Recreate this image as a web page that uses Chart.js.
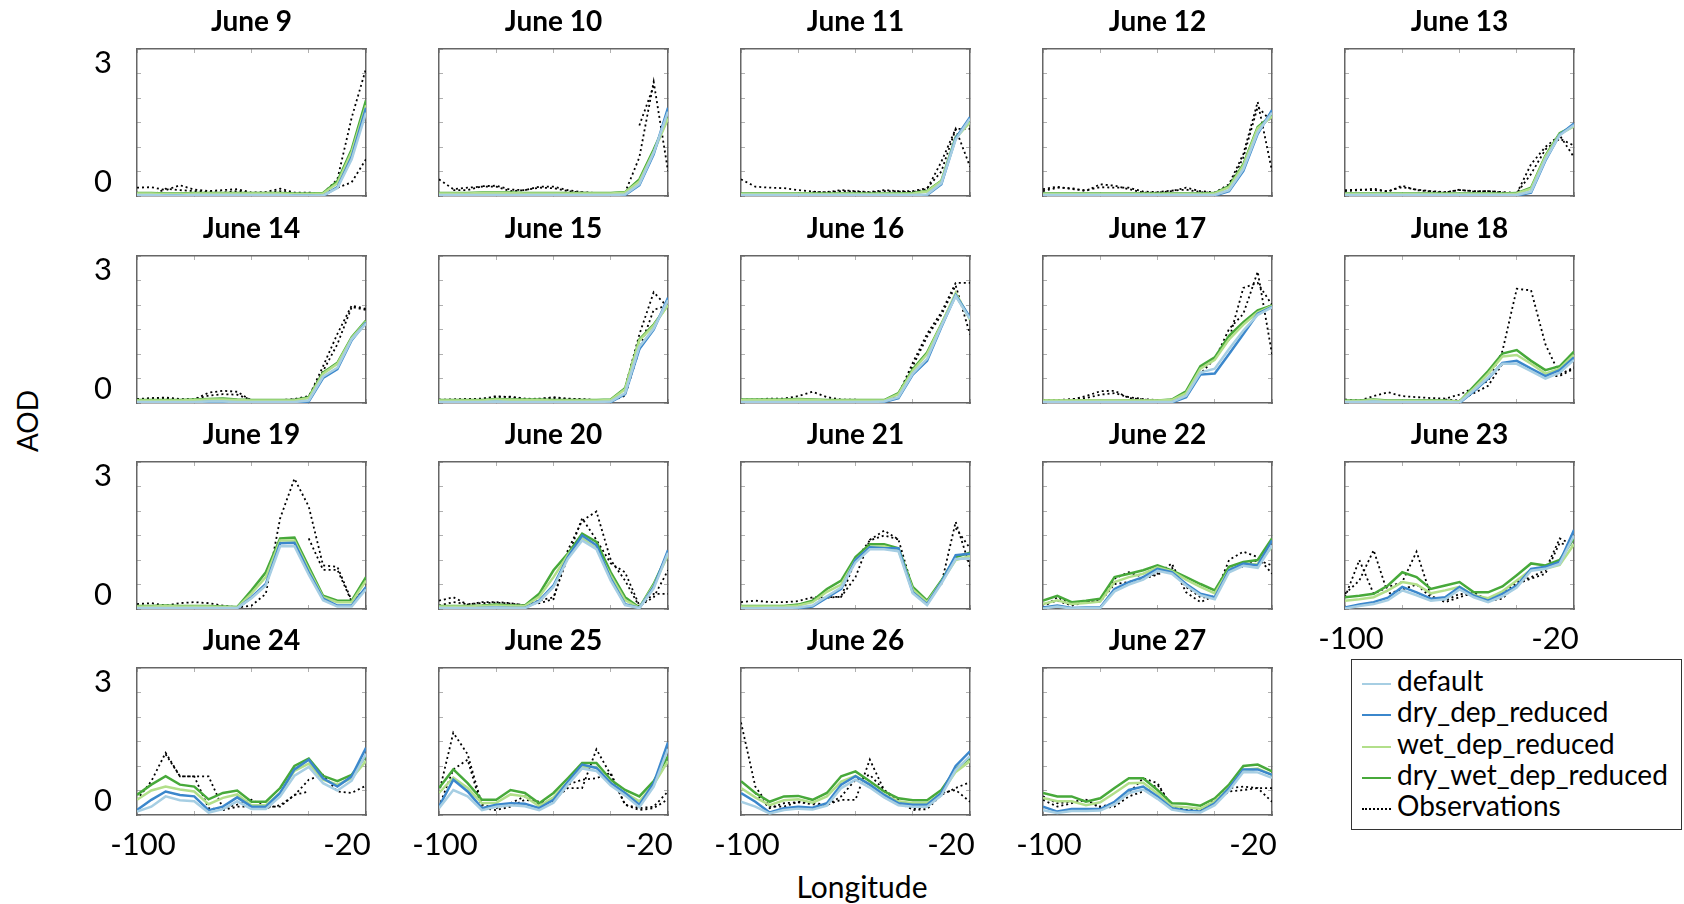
<!DOCTYPE html>
<html>
<head>
<meta charset="utf-8">
<script src="https://cdn.jsdelivr.net/npm/chart.js@4.4.1/dist/chart.umd.min.js"></script>
<style>
  body { margin: 0; background: #fff; width: 1684px; height: 904px; position: relative; overflow: hidden; font-family: Lato, "Open Sans", sans-serif; }
  canvas { position: absolute; }
  #legend { position: absolute; left: 1351px; top: 659px; width: 331px; height: 171px; border: 1.5px solid #333; box-sizing: border-box; padding-top: 5px; }
  #legend div { height: 31.3px; line-height: 31.3px; font-size: 28px; color: #000; white-space: nowrap; }
  #legend span { display: inline-block; width: 29px; margin: 0 6px 0 10px; vertical-align: middle; }
  #ylab { position: absolute; left: 27px; top: 421px; font-size: 28px; transform: translate(-50%, -50%) rotate(-90deg); }
  #xlab { position: absolute; left: 862px; top: 886px; font-size: 30px; transform: translate(-50%, -50%); }
</style>
</head>
<body>
<div id="ylab">AOD</div>
<div id="xlab">Longitude</div>
<div id="legend"></div>
<script>
// longitudes of the model / observation points
const lon = [-100, -95, -90, -85, -80, -75, -70, -65, -60, -55, -50, -45, -40, -35, -30, -25, -20];
const days = ['June 9', 'June 10', 'June 11', 'June 12', 'June 13', 'June 14', 'June 15', 'June 16', 'June 17', 'June 18',
              'June 19', 'June 20', 'June 21', 'June 22', 'June 23', 'June 24', 'June 25', 'June 26', 'June 27'];
const yTickLabels = [0, 3];
const xTickLabels = [-100, -20];

const seriesNames = ['default', 'dry_dep_reduced', 'wet_dep_reduced', 'dry_wet_dep_reduced', 'Observations'];
const seriesColors = ['#a6cee3', '#3b87cc', '#b2df8a', '#47a93a', '#000000'];

// one row per day
const aodDefault = [
  [0.02,0.02,0.01,0.01,0.02,0.02,0.02,0.02,0.02,0.02,0.02,0.01,0.01,0.01,0.16,0.75,1.70],
  [0.02,0.02,0.02,0.02,0.02,0.02,0.02,0.02,0.02,0.02,0.02,0.02,0.02,0.03,0.24,0.88,1.72],
  [0.02,0.02,0.02,0.02,0.02,0.02,0.02,0.02,0.02,0.02,0.02,0.02,0.02,0.03,0.26,1.15,1.58],
  [0.02,0.02,0.02,0.02,0.02,0.02,0.02,0.02,0.02,0.02,0.02,0.02,0.02,0.12,0.55,1.30,1.70],
  [0.02,0.02,0.02,0.02,0.02,0.02,0.02,0.02,0.02,0.02,0.02,0.02,0.02,0.09,0.74,1.24,1.45],
  [0.02,0.02,0.02,0.02,0.02,0.03,0.03,0.02,0.02,0.02,0.02,0.02,0.05,0.54,0.72,1.30,1.62],
  [0.02,0.02,0.02,0.02,0.03,0.02,0.02,0.02,0.02,0.02,0.02,0.02,0.03,0.20,1.15,1.52,2.10],
  [0.02,0.02,0.02,0.02,0.02,0.02,0.02,0.02,0.02,0.02,0.03,0.12,0.60,0.90,1.57,2.18,1.72],
  [0.02,0.02,0.02,0.02,0.02,0.02,0.02,0.02,0.02,0.02,0.15,0.62,0.70,1.10,1.48,1.80,1.95],
  [0.02,0.02,0.03,0.02,0.02,0.02,0.02,0.02,0.01,0.26,0.52,0.80,0.80,0.65,0.50,0.62,0.88],
  [0.02,0.02,0.02,0.02,0.02,0.02,0.02,0.02,0.22,0.48,1.28,1.28,0.70,0.18,0.05,0.05,0.40],
  [0.02,0.02,0.02,0.02,0.03,0.02,0.02,0.15,0.45,1.02,1.40,1.22,0.58,0.08,0.02,0.42,1.15],
  [0.01,0.01,0.02,0.02,0.03,0.07,0.26,0.44,0.95,1.22,1.22,1.18,0.32,0.08,0.52,1.02,1.03],
  [0.01,0.05,0.01,0.02,0.02,0.36,0.50,0.60,0.78,0.72,0.48,0.28,0.20,0.75,0.88,0.84,1.30],
  [0.01,0.06,0.10,0.18,0.38,0.28,0.17,0.20,0.40,0.24,0.14,0.26,0.44,0.78,0.82,0.92,1.50],
  [0.07,0.17,0.38,0.30,0.28,0.05,0.12,0.28,0.12,0.12,0.38,0.80,0.98,0.65,0.50,0.70,1.25],
  [0.14,0.51,0.38,0.10,0.17,0.20,0.18,0.10,0.25,0.62,0.95,0.90,0.60,0.40,0.16,0.58,1.35],
  [0.27,0.17,0.03,0.10,0.13,0.11,0.19,0.55,0.72,0.56,0.36,0.20,0.17,0.17,0.40,0.92,1.20],
  [0.10,0.04,0.08,0.08,0.09,0.22,0.45,0.52,0.33,0.11,0.06,0.05,0.20,0.50,0.88,0.87,0.76]
];
const aodDryDep = [
  [0.01,0.01,0.01,0.01,0.01,0.01,0.01,0.01,0.01,0.01,0.01,0.01,0.01,0.00,0.18,0.80,1.80],
  [0.01,0.01,0.01,0.01,0.01,0.01,0.01,0.01,0.01,0.01,0.01,0.01,0.01,0.02,0.22,0.85,1.80],
  [0.01,0.01,0.01,0.01,0.01,0.01,0.01,0.01,0.01,0.01,0.01,0.01,0.01,0.02,0.24,1.18,1.61],
  [0.01,0.01,0.01,0.01,0.01,0.01,0.01,0.01,0.01,0.01,0.01,0.01,0.01,0.10,0.51,1.27,1.75],
  [0.01,0.01,0.01,0.01,0.01,0.01,0.01,0.01,0.01,0.01,0.01,0.01,0.01,0.07,0.72,1.25,1.48],
  [0.01,0.01,0.01,0.01,0.01,0.02,0.02,0.01,0.01,0.01,0.01,0.01,0.03,0.51,0.69,1.28,1.64],
  [0.01,0.01,0.01,0.01,0.02,0.01,0.01,0.01,0.01,0.01,0.01,0.01,0.02,0.18,1.10,1.50,2.15],
  [0.01,0.01,0.01,0.01,0.01,0.01,0.01,0.01,0.01,0.01,0.02,0.10,0.58,0.86,1.55,2.20,1.75],
  [0.01,0.01,0.01,0.01,0.01,0.01,0.01,0.01,0.01,0.01,0.12,0.58,0.60,1.00,1.41,1.82,1.96],
  [0.01,0.01,0.02,0.01,0.01,0.01,0.01,0.01,0.00,0.24,0.50,0.82,0.86,0.70,0.55,0.67,0.93],
  [0.01,0.01,0.01,0.01,0.01,0.01,0.01,0.01,0.24,0.51,1.34,1.35,0.75,0.21,0.07,0.07,0.45],
  [0.01,0.01,0.01,0.02,0.03,0.02,0.02,0.17,0.48,1.06,1.50,1.30,0.62,0.10,0.02,0.45,1.20],
  [0.00,0.00,0.01,0.01,0.02,0.05,0.23,0.41,1.00,1.26,1.24,1.24,0.34,0.10,0.55,1.10,1.13],
  [0.03,0.07,0.02,0.03,0.03,0.41,0.55,0.65,0.82,0.75,0.51,0.31,0.24,0.79,0.93,0.89,1.40],
  [0.03,0.09,0.14,0.23,0.45,0.34,0.21,0.24,0.45,0.27,0.17,0.31,0.48,0.82,0.86,0.96,1.61],
  [0.10,0.31,0.48,0.41,0.38,0.10,0.17,0.36,0.17,0.17,0.45,0.93,1.13,0.75,0.58,0.79,1.37],
  [0.17,0.72,0.48,0.14,0.21,0.24,0.23,0.14,0.31,0.68,1.03,0.96,0.65,0.45,0.21,0.65,1.48],
  [0.45,0.27,0.05,0.14,0.17,0.15,0.24,0.62,0.79,0.62,0.41,0.24,0.21,0.21,0.45,1.00,1.30],
  [0.17,0.07,0.12,0.12,0.12,0.27,0.51,0.58,0.38,0.14,0.09,0.07,0.24,0.55,0.93,0.93,0.82]
];
const aodWetDep = [
  [0.05,0.05,0.04,0.04,0.05,0.05,0.05,0.05,0.05,0.05,0.05,0.04,0.04,0.05,0.26,0.90,1.85],
  [0.05,0.05,0.05,0.06,0.06,0.06,0.05,0.05,0.05,0.05,0.05,0.05,0.05,0.07,0.30,0.90,1.58],
  [0.04,0.04,0.04,0.04,0.04,0.04,0.04,0.04,0.04,0.04,0.04,0.04,0.05,0.09,0.30,1.18,1.50],
  [0.04,0.04,0.04,0.04,0.04,0.04,0.04,0.04,0.04,0.04,0.04,0.04,0.05,0.18,0.62,1.38,1.62],
  [0.04,0.04,0.04,0.04,0.04,0.04,0.04,0.04,0.04,0.04,0.04,0.04,0.05,0.15,0.80,1.26,1.42],
  [0.05,0.05,0.05,0.05,0.06,0.07,0.07,0.06,0.05,0.05,0.05,0.05,0.10,0.60,0.80,1.32,1.66],
  [0.05,0.05,0.05,0.05,0.07,0.06,0.06,0.06,0.05,0.05,0.05,0.05,0.06,0.28,1.28,1.58,2.00],
  [0.06,0.06,0.06,0.06,0.07,0.06,0.05,0.05,0.05,0.05,0.05,0.18,0.66,1.00,1.60,2.25,1.70],
  [0.05,0.05,0.05,0.05,0.05,0.05,0.05,0.05,0.05,0.06,0.20,0.70,0.88,1.30,1.60,1.85,1.98],
  [0.04,0.04,0.06,0.04,0.04,0.04,0.04,0.04,0.03,0.30,0.60,0.95,0.98,0.80,0.60,0.70,0.98],
  [0.05,0.05,0.06,0.05,0.05,0.05,0.04,0.03,0.32,0.65,1.40,1.40,0.80,0.24,0.14,0.14,0.58],
  [0.05,0.05,0.05,0.06,0.07,0.06,0.06,0.25,0.65,1.10,1.44,1.24,0.68,0.18,0.02,0.48,1.10],
  [0.05,0.05,0.05,0.05,0.07,0.14,0.35,0.50,1.00,1.26,1.28,1.20,0.40,0.14,0.55,1.00,1.08],
  [0.10,0.18,0.10,0.12,0.15,0.55,0.65,0.72,0.85,0.77,0.60,0.45,0.32,0.80,0.90,0.92,1.27],
  [0.17,0.20,0.24,0.38,0.55,0.50,0.32,0.38,0.45,0.28,0.22,0.36,0.58,0.80,0.82,0.90,1.32],
  [0.31,0.50,0.58,0.52,0.48,0.22,0.35,0.42,0.20,0.20,0.45,0.90,1.05,0.72,0.62,0.75,1.10],
  [0.45,0.76,0.55,0.24,0.25,0.42,0.38,0.18,0.36,0.68,0.98,0.98,0.66,0.45,0.28,0.62,1.10],
  [0.55,0.36,0.20,0.30,0.32,0.25,0.38,0.68,0.80,0.62,0.42,0.28,0.24,0.24,0.45,0.88,1.10],
  [0.35,0.28,0.28,0.20,0.26,0.45,0.65,0.66,0.44,0.18,0.16,0.13,0.28,0.55,0.92,0.95,0.82]
];
const aodDryWetDep = [
  [0.06,0.06,0.05,0.05,0.06,0.06,0.06,0.06,0.06,0.06,0.06,0.05,0.05,0.06,0.30,0.95,1.95],
  [0.06,0.06,0.06,0.07,0.07,0.07,0.06,0.06,0.06,0.06,0.06,0.06,0.06,0.08,0.34,0.95,1.60],
  [0.05,0.05,0.05,0.05,0.05,0.05,0.05,0.05,0.05,0.05,0.05,0.05,0.06,0.10,0.31,1.20,1.52],
  [0.05,0.05,0.05,0.05,0.05,0.05,0.05,0.05,0.05,0.05,0.05,0.05,0.06,0.20,0.65,1.41,1.65],
  [0.05,0.05,0.05,0.05,0.05,0.05,0.05,0.05,0.05,0.05,0.05,0.05,0.06,0.17,0.82,1.28,1.43],
  [0.06,0.06,0.06,0.06,0.07,0.08,0.09,0.07,0.06,0.06,0.06,0.06,0.12,0.62,0.82,1.34,1.68],
  [0.06,0.06,0.06,0.06,0.08,0.07,0.07,0.07,0.06,0.06,0.06,0.06,0.07,0.30,1.30,1.60,2.00],
  [0.07,0.07,0.07,0.07,0.08,0.07,0.06,0.06,0.06,0.06,0.06,0.20,0.69,1.03,1.61,2.20,1.72],
  [0.05,0.05,0.05,0.05,0.05,0.05,0.05,0.05,0.05,0.07,0.24,0.75,0.93,1.37,1.65,1.89,1.99],
  [0.05,0.05,0.07,0.05,0.05,0.05,0.05,0.05,0.03,0.34,0.65,1.01,1.08,0.86,0.67,0.75,1.05],
  [0.06,0.06,0.07,0.06,0.06,0.06,0.05,0.04,0.38,0.75,1.44,1.46,0.86,0.27,0.17,0.17,0.65],
  [0.06,0.06,0.06,0.07,0.09,0.07,0.07,0.31,0.79,1.13,1.54,1.37,0.75,0.24,0.03,0.51,1.13],
  [0.06,0.06,0.06,0.06,0.09,0.17,0.41,0.58,1.06,1.32,1.32,1.24,0.45,0.17,0.58,1.06,1.15],
  [0.17,0.27,0.14,0.17,0.21,0.65,0.72,0.79,0.89,0.79,0.65,0.51,0.38,0.86,0.96,1.00,1.44],
  [0.24,0.27,0.31,0.48,0.75,0.65,0.41,0.48,0.55,0.34,0.34,0.46,0.69,0.93,0.89,1.00,1.44],
  [0.41,0.62,0.79,0.62,0.58,0.32,0.45,0.50,0.27,0.27,0.55,1.00,1.15,0.80,0.69,0.82,1.20],
  [0.55,0.93,0.65,0.31,0.31,0.51,0.45,0.24,0.45,0.75,1.06,1.06,0.72,0.51,0.38,0.69,1.20],
  [0.69,0.45,0.27,0.38,0.39,0.31,0.45,0.79,0.89,0.69,0.48,0.34,0.30,0.30,0.51,0.93,1.17],
  [0.45,0.38,0.38,0.27,0.34,0.55,0.75,0.75,0.51,0.24,0.23,0.19,0.34,0.62,1.00,1.03,0.89]
];
// two observation tracks per day (null = no data)
const obsA = [
  [0.17,0.18,0.12,0.22,0.13,0.10,0.12,0.14,0.07,0.08,0.15,0.07,0.07,0.05,0.34,1.60,2.60],
  [0.34,0.14,0.17,0.19,0.19,0.10,0.12,0.17,0.16,0.10,0.07,0.05,0.05,0.07,0.79,2.33,0.51],
  [0.34,0.19,0.17,0.16,0.12,0.09,0.07,0.10,0.09,0.07,0.10,0.09,0.08,0.14,0.70,1.37,0.60],
  [0.10,0.17,0.16,0.10,0.24,0.21,0.14,0.07,0.07,0.10,0.17,0.10,0.07,0.24,0.86,1.92,0.51],
  [0.10,0.12,0.15,0.09,0.21,0.12,0.09,0.07,0.13,0.09,0.10,0.07,0.05,0.65,1.00,1.24,0.79],
  [0.07,0.09,0.10,0.07,0.07,0.21,0.25,0.23,0.05,0.03,0.05,0.07,0.12,0.75,1.41,1.99,1.92],
  [0.07,0.07,0.08,0.08,0.14,0.12,0.08,0.09,0.10,0.08,0.07,0.06,0.03,0.31,1.40,2.26,1.95],
  [0.07,0.07,0.09,0.09,0.14,0.23,0.12,0.07,0.07,0.05,0.03,0.17,0.82,1.41,1.85,2.45,2.45],
  [0.05,0.05,0.07,0.14,0.24,0.25,0.10,0.07,0.05,0.07,0.17,0.72,0.89,1.51,1.82,2.68,1.00],
  [0.07,0.05,0.14,0.22,0.14,0.12,0.10,0.09,0.17,0.31,0.45,1.06,2.33,2.30,1.20,0.58,0.73],
  [0.10,0.12,0.07,0.12,0.14,0.12,0.07,0.03,0.07,0.31,1.85,2.66,2.09,0.89,0.86,0.17,0.41],
  [0.17,0.24,0.09,0.14,0.14,0.12,0.07,0.17,0.24,1.06,1.85,1.41,0.93,0.75,0.07,0.24,0.79],
  [0.14,0.17,0.14,0.14,0.16,0.24,0.24,0.25,0.65,1.41,1.60,1.42,0.41,0.17,0.51,1.78,0.86],
  [0.10,0.17,0.07,0.14,0.17,0.62,0.75,0.65,0.72,0.93,0.34,0.14,0.27,1.00,1.17,1.06,0.72],
  [0.24,1.00,0.31,0.45,0.55,1.17,0.27,0.14,0.24,0.34,0.17,0.31,0.55,0.65,0.79,1.44,1.30],
  [0.31,0.69,1.27,0.79,0.79,0.79,0.14,0.21,0.31,0.17,0.17,0.41,0.48,null,null,null,null],
  [0.45,1.68,1.24,0.21,0.14,0.24,0.38,0.21,0.31,0.55,0.55,1.34,0.82,0.21,0.14,0.17,0.48],
  [1.89,0.58,0.17,0.17,0.27,0.25,0.21,0.31,0.31,1.13,0.51,0.31,0.10,0.12,0.41,0.55,0.67],
  [0.38,0.24,0.27,0.31,0.14,0.17,0.38,0.48,0.62,0.17,0.10,0.10,0.27,0.48,0.51,0.55,0.55]
];
const obsB = [
  [0.07,0.00,0.15,0.12,0.10,0.08,0.07,0.10,0.06,0.05,0.10,0.05,0.05,0.04,0.17,0.28,0.75],
  [null,0.12,0.12,0.20,0.21,0.13,0.12,0.19,0.19,0.12,0.08,0.06,0.06,null,1.44,2.25,null],
  [null,null,null,null,null,0.08,0.08,0.12,0.10,0.08,0.12,0.10,0.10,0.16,0.50,1.37,1.37],
  [0.14,0.19,0.14,0.12,0.18,0.17,0.17,0.09,0.08,0.11,0.13,0.08,0.06,0.20,0.79,1.82,1.51],
  [0.12,0.13,0.12,0.10,0.18,0.13,0.10,0.08,0.12,0.10,0.10,0.08,0.06,0.45,0.95,1.17,1.03],
  [0.08,0.10,0.11,0.08,0.08,0.15,0.18,0.17,0.06,0.05,0.06,0.08,0.14,0.65,1.20,1.96,1.90],
  [0.06,0.07,0.08,0.09,0.12,0.13,0.09,0.08,0.12,0.09,0.08,0.06,0.04,0.15,1.10,1.90,2.00],
  [null,null,null,null,null,null,null,null,null,null,0.04,0.15,0.75,1.35,1.80,2.40,1.40],
  [0.06,0.06,0.08,0.10,0.17,0.20,0.12,0.08,0.06,0.06,0.12,0.60,0.90,1.30,2.35,2.45,2.00],
  [null,null,null,null,null,null,null,0.07,0.05,0.20,0.35,0.80,null,null,0.55,0.55,0.70],
  [null,null,null,null,null,null,null,null,null,null,null,null,1.44,0.80,0.80,0.15,0.40],
  [0.07,0.14,0.10,0.12,0.13,0.11,0.08,0.12,0.20,1.20,1.80,1.99,1.00,0.58,0.05,0.31,0.31],
  [null,null,null,null,null,0.21,0.23,0.25,1.00,1.40,1.50,1.42,null,null,null,1.65,1.24],
  [0.03,0.24,0.10,0.15,0.15,0.51,0.55,0.62,0.70,0.85,0.45,0.24,0.24,0.82,0.86,1.00,0.89],
  [0.31,0.58,1.20,0.31,0.40,0.50,0.24,0.17,0.31,0.27,0.17,0.21,0.51,0.62,0.72,1.35,1.26],
  [null,null,1.24,0.79,0.79,0.14,0.10,0.17,0.17,0.14,0.20,0.40,0.72,0.82,0.48,0.45,0.60],
  [0.17,0.93,1.13,0.14,0.10,0.17,0.31,0.27,0.27,0.62,0.72,0.75,0.86,0.21,0.10,0.14,0.32],
  [null,0.45,0.14,0.24,0.26,0.22,0.20,0.38,0.72,0.82,0.51,0.24,0.12,0.17,0.45,0.51,0.27],
  [0.31,0.17,0.24,0.31,0.17,0.24,0.45,0.75,0.65,0.17,0.10,0.07,0.31,0.55,0.58,0.55,0.27]
];

Chart.defaults.font.family = 'Lato, "Open Sans", sans-serif';
Chart.defaults.color = '#000';

const colLeft = [137, 439, 741, 1043, 1345];
const rowTop = [49, 256, 462, 668];

function pts(arr, i) {
  return lon.map((x, k) => ({ x: x, y: arr[i][k] }));
}

function frameAxis(pos, min, max, step) {
  const horiz = pos === 'top' || pos === 'bottom';
  return {
    type: 'linear', position: pos, min: min, max: max,
    ticks: { display: false, stepSize: step },
    grid: { drawOnChartArea: false, tickLength: -4, color: '#b0b0b0' },
    border: { color: '#666', width: 1.5 },
    afterFit: s => { if (horiz) s.height = 0; else s.width = 0; }
  };
}

days.forEach((day, i) => {
  const col = i % 5, row = Math.floor(i / 5);
  const showY = col === 0;
  const showX = row === 3 || i === 14;
  const cv = document.createElement('canvas');
  cv.width = 329; cv.height = 244;
  cv.style.left = (colLeft[col] - 90) + 'px';
  cv.style.top = (rowTop[row] - 45) + 'px';
  document.body.appendChild(cv);

  const model = [aodDefault, aodDryDep, aodWetDep, aodDryWetDep];
  const datasets = model.map((arr, s) => ({
    label: seriesNames[s], data: pts(arr, i),
    borderColor: seriesColors[s], borderWidth: 2.5, pointRadius: 0
  }));
  [obsA, obsB].forEach(arr => datasets.push({
    label: 'Observations', data: pts(arr, i),
    borderColor: '#000', borderWidth: 1.8, borderDash: [2, 3], pointRadius: 0
  }));

  new Chart(cv, {
    type: 'line',
    data: { datasets: datasets },
    options: {
      responsive: false, animation: false, events: [],
      layout: { padding: { right: 10 } },
      plugins: {
        legend: { display: false },
        tooltip: { enabled: false },
        title: { display: true, text: day, fullSize: false, color: '#000',
                 font: { size: 28, weight: 'bold' }, padding: { top: 1, bottom: 10.4 } }
      },
      scales: {
        x: frameAxis('bottom', -100, -20, 20),
        x2: frameAxis('top', -100, -20, 20),
        y: frameAxis('left', 0, 3, 0.5),
        y2: frameAxis('right', 0, 3, 0.5),
        // label-only axes: the printed tick labels sit a bit inside the frame
        xl: {
          type: 'linear', position: 'bottom', weight: 1, min: -102.35, max: -12.54,
          grid: { display: true, drawOnChartArea: false, tickLength: 11, color: 'rgba(0,0,0,0)' },
          border: { display: false },
          afterBuildTicks: s => { s.ticks = xTickLabels.map(v => ({ value: v })); },
          ticks: { display: showX, font: { size: 31 }, color: '#000', padding: 0, maxRotation: 0, autoSkip: false },
          afterFit: s => { s.height = 52; }
        },
        yl: {
          type: 'linear', position: 'left', weight: 1, min: -0.34, max: 3.36,
          grid: { display: true, drawOnChartArea: false, tickLength: 25, color: 'rgba(0,0,0,0)' },
          border: { display: false },
          afterBuildTicks: s => { s.ticks = yTickLabels.map(v => ({ value: v })); },
          ticks: { display: showY, font: { size: 31 }, color: '#000', padding: 0 },
          afterFit: s => { s.width = 90; }
        }
      }
    }
  });
});

// legend
const legend = document.getElementById('legend');
seriesNames.forEach((name, s) => {
  const row = document.createElement('div');
  const sw = document.createElement('span');
  sw.style.borderTop = s === 4 ? '2px dotted #000' : '2.5px solid ' + seriesColors[s];
  row.appendChild(sw);
  row.appendChild(document.createTextNode(name));
  legend.appendChild(row);
});
</script>
</body>
</html>
